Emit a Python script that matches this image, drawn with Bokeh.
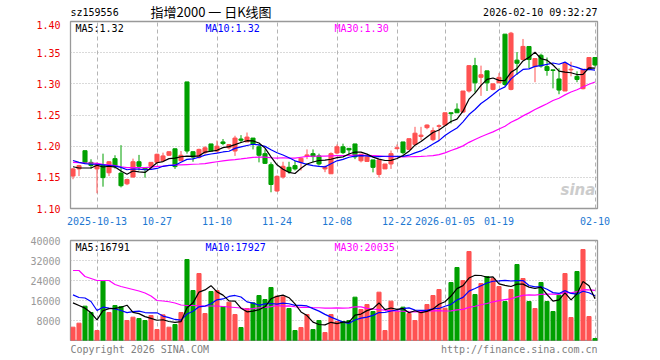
from bokeh.plotting import figure
from bokeh.layouts import column
from bokeh.models import Range1d, FixedTicker, Label, ColumnDataSource
from bokeh.embed import file_html
from bokeh.resources import INLINE

# ---------------- data ----------------
opens = [1.152, 1.1635, 1.1927, 1.174, 1.1635, 1.1698, 1.1573, 1.180, 1.1568, 1.1396,
         1.1505, 1.175, 1.1656, 1.1677, 1.174, 1.1766, 1.1854, 1.1958, 1.1766, 1.3031,
         1.1911, 1.1818, 1.1896, 1.2036, 1.1922, 1.2068, 1.1974, 1.1922, 1.2115, 1.2068,
         1.213, 1.199, 1.188, 1.1703, 1.1281, 1.1505, 1.1661, 1.1688, 1.174, 1.1844,
         1.188, 1.1844, 1.1635, 1.1557, 1.189, 1.199, 1.1965, 1.2036, 1.1766, 1.1755,
         1.178, 1.1547, 1.1635, 1.1714, 1.196, 1.2068, 1.1948, 1.2026, 1.2156, 1.2297,
         1.2104, 1.2318, 1.2338, 1.2536, 1.2594, 1.2547, 1.2885, 1.3292, 1.3104, 1.3208,
         1.2911, 1.3016, 1.3797, 1.2911, 1.338, 1.339, 1.3599, 1.3276, 1.3458, 1.3276,
         1.3224, 1.3078, 1.2885, 1.3224, 1.312, 1.2922, 1.3234, 1.3422]
highs = [1.165, 1.170, 1.1927, 1.179, 1.174, 1.188, 1.176, 1.1854, 1.2016, 1.1479,
         1.180, 1.186, 1.1656, 1.1745, 1.188, 1.1896, 1.1915, 1.1958, 1.1922, 1.3031,
         1.1911, 1.196, 1.200, 1.2036, 1.209, 1.2115, 1.2026, 1.2167, 1.2177, 1.2219,
         1.213, 1.2026, 1.1948, 1.174, 1.1531, 1.175, 1.175, 1.1766, 1.1818, 1.1948,
         1.1948, 1.188, 1.1688, 1.190, 1.2026, 1.204, 1.1965, 1.2036, 1.188, 1.185,
         1.178, 1.178, 1.1714, 1.193, 1.2026, 1.2068, 1.212, 1.231, 1.231, 1.2349,
         1.230, 1.2349, 1.2536, 1.2536, 1.2687, 1.2885, 1.330, 1.3417, 1.3292, 1.3208,
         1.300, 1.3172, 1.3797, 1.3833, 1.351, 1.372, 1.3599, 1.3406, 1.3484, 1.3422,
         1.3224, 1.325, 1.3328, 1.3354, 1.320, 1.3234, 1.3422, 1.3422]
lows = [1.147, 1.152, 1.172, 1.164, 1.1245, 1.135, 1.152, 1.164, 1.1339, 1.1375,
        1.1495, 1.161, 1.1495, 1.1635, 1.172, 1.175, 1.1845, 1.1635, 1.176, 1.188,
        1.175, 1.180, 1.187, 1.1922, 1.1896, 1.2015, 1.1948, 1.1844, 1.2052, 1.2068,
        1.1948, 1.174, 1.1714, 1.126, 1.127, 1.1479, 1.1557, 1.161, 1.1609, 1.1792,
        1.174, 1.1688, 1.1583, 1.1557, 1.187, 1.1875, 1.186, 1.1792, 1.174, 1.1755,
        1.158, 1.1495, 1.1635, 1.1635, 1.1948, 1.187, 1.1948, 1.2026, 1.210, 1.2271,
        1.208, 1.2083, 1.2338, 1.2365, 1.2536, 1.2531, 1.286, 1.286, 1.2807, 1.2885,
        1.2896, 1.3016, 1.2963, 1.2896, 1.3146, 1.338, 1.325, 1.3026, 1.326, 1.313,
        1.2927, 1.2833, 1.2885, 1.312, 1.3026, 1.2911, 1.3234, 1.3276]
closes = [1.1635, 1.1688, 1.174, 1.169, 1.1714, 1.1495, 1.175, 1.1677, 1.1365, 1.1464,
          1.175, 1.1677, 1.1635, 1.174, 1.187, 1.1844, 1.1911, 1.1672, 1.1854, 1.1922,
          1.1825, 1.1948, 1.1974, 1.1922, 1.200, 1.2042, 1.2026, 1.213, 1.2094, 1.2146,
          1.2026, 1.1854, 1.1724, 1.1385, 1.1516, 1.1677, 1.1594, 1.1635, 1.1807, 1.186,
          1.1833, 1.1714, 1.1662, 1.188, 1.199, 1.1896, 1.194, 1.1828, 1.187, 1.1828,
          1.166, 1.178, 1.1714, 1.188, 1.1975, 1.1896, 1.212, 1.2208, 1.2177, 1.2339,
          1.225, 1.2328, 1.2536, 1.2521, 1.2536, 1.2885, 1.3292, 1.3016, 1.3146, 1.3016,
          1.300, 1.3104, 1.2990, 1.3813, 1.333, 1.360, 1.339, 1.3406, 1.3286, 1.3214,
          1.3214, 1.290, 1.3328, 1.3234, 1.307, 1.3234, 1.3422, 1.3302]
volumes = [5333, 6933, 13733, 11200, 4000, 23733, 11200, 14000, 13600, 8000,
           9333, 8800, 8000, 10000, 4400, 10267, 5333, 6400, 11200, 32400,
           20000, 26800, 10800, 19600, 20000, 13600, 15333, 10400, 5200, 12800,
           15067, 18000, 16400, 21200, 17733, 17467, 12800, 4000, 5200, 10400,
           4400, 8000, 3200, 10400, 7600, 7600, 8000, 17333, 12400, 14400,
           11600, 19333, 4000, 15733, 11733, 13333, 10800, 8000, 11733, 14400,
           18000, 20400, 12933, 23200, 29200, 24000, 35600, 18400, 22800, 25600,
           24800, 21600, 15600, 20400, 30400, 24800, 15600, 12800, 23200, 15600,
           11600, 18133, 26800, 9200, 27600, 36400, 9600, 800]

# moving-average values at the left edge (need data from before the window)
ma5_head = [1.167, 1.165, 1.165, 1.165]
ma10_head = [1.177, 1.174, 1.172, 1.171, 1.171, 1.170, 1.169, 1.168, 1.166]
ma30_head = [1.174, 1.1735, 1.173, 1.173, 1.1725, 1.171, 1.170, 1.169, 1.167, 1.1656,
             1.1656, 1.1656, 1.1656, 1.1665, 1.1677, 1.168, 1.169, 1.170, 1.170, 1.1705,
             1.171, 1.1714, 1.172, 1.1735, 1.175, 1.1765, 1.1776, 1.1785, 1.1795]
vma5_head = [15067, 14000, 12933, 11067]
vma10_head = [18267, 17200, 17000, 15600, 12000, 13333, 12933, 12667, 12000]
vma30_head = [28000, 28000, 25600, 24800, 24000, 24000, 24000, 22400, 21600, 21000,
              20400, 19800, 19000, 17800, 16000, 15800, 15500, 15000, 14200, 14000,
              14000, 13900, 13800, 13800, 13800, 13600, 13400, 13200, 13000]

date_tick_pos = [4, 14, 24, 34, 44, 54, 62, 71, 87]
date_tick_labels = ["2025-10-13", "10-27", "11-10", "11-24", "12-08", "12-22",
                    "2026-01-05", "01-19", "02-10"]
price_ticks = [1.10, 1.15, 1.20, 1.25, 1.30, 1.35, 1.40]
price_tick_labels = ["1.10", "1.15", "1.20", "1.25", "1.30", "1.35", "1.40"]
vol_ticks = [8000, 16000, 24000, 32000, 40000]
vol_tick_labels = ["8000", "16000", "24000", "32000", "40000"]

# ---------------- derived ----------------
def moving_average(vals, w, head):
    out = list(head)
    for i in range(len(head), len(vals)):
        out.append(sum(vals[i - w + 1:i + 1]) / w)
    return out

n = len(closes)
idx = list(range(n))
UP, DOWN = "#ff5252", "#00a000"
colors = [UP if c >= o else DOWN for o, c in zip(opens, closes)]
src = ColumnDataSource(dict(
    x=idx, o=opens, h=highs, l=lows, c=closes, v=volumes, color=colors,
    top=[max(o, c) for o, c in zip(opens, closes)],
    bot=[min(o, c) for o, c in zip(opens, closes)],
    ma5=moving_average(closes, 5, ma5_head),
    ma10=moving_average(closes, 10, ma10_head),
    ma30=moving_average(closes, 30, ma30_head),
    vma5=moving_average(volumes, 5, vma5_head),
    vma10=moving_average(volumes, 10, vma10_head),
    vma30=moving_average(volumes, 30, vma30_head),
))

FONT = "DejaVu Sans Mono"
GRID = "#b4b4b4"
FRAME_L, FRAME_W = 70, 527
FRAME_R = FRAME_L + FRAME_W
PX = 6.0                      # pixels per bar
X0 = -2.5 / PX
X1 = X0 + FRAME_W / PX

def xi(px):                   # canvas pixel -> bar index
    return X0 + (px - FRAME_L) / PX

def style(fig):
    fig.outline_line_color = "#999999"
    fig.outline_line_width = 1.3
    fig.background_fill_color = "white"
    fig.border_fill_color = "white"
    fig.xgrid.ticker = FixedTicker(ticks=date_tick_pos, minor_ticks=[])
    fig.xgrid.grid_line_color = GRID
    fig.xgrid.grid_line_dash = "4 3"
    fig.ygrid.grid_line_color = GRID
    fig.ygrid.grid_line_dash = "1 2"
    fig.yaxis.axis_line_color = None
    fig.yaxis.major_tick_line_color = None
    fig.yaxis.minor_tick_line_color = None
    fig.yaxis.major_label_text_font = FONT
    fig.yaxis.major_label_text_font_size = "10px"
    fig.yaxis.major_label_standoff = 4

def add_label(fig, x, y, text, color="#000000", align="left", font=FONT, size="10px", **kw):
    fig.add_layout(Label(x=x, y=y, text=text, text_color=color, text_align=align,
                         text_baseline="middle", text_font=font, text_font_size=size, **kw))

def strip(height):
    """A text-only band (header/footer); its frame lines up with the panels' frames,
    so its x range is in canvas pixels of that frame."""
    f = figure(width=660, height=height, output_backend="svg", toolbar_location=None, tools="",
               x_range=Range1d(FRAME_L, FRAME_R), y_range=Range1d(0, height),
               min_border_left=FRAME_L, min_border_right=660 - FRAME_R,
               min_border_top=0, min_border_bottom=0)
    f.axis.visible = False
    f.grid.visible = False
    f.outline_line_color = None
    return f

# ---------------- header ----------------
HEAD_H = 20
head = strip(HEAD_H)
add_label(head, 70, HEAD_H - 12, "sz159556")
add_label(head, 150, HEAD_H - 10.5, "指增2000 一 日K线图", font="Noto Sans CJK SC", size="13px")
add_label(head, 597, HEAD_H - 12, "2026-02-10 09:32:27", align="right")

# ---------------- price panel ----------------
P_FRAME_H = 191
p = figure(width=660, height=1 + P_FRAME_H + 15, output_backend="svg", toolbar_location=None,
           tools="", x_range=Range1d(X0, X1), y_range=Range1d(1.10, 1.40),
           min_border_left=70, min_border_right=63, min_border_top=1, min_border_bottom=15)
style(p)
p.ygrid.ticker = FixedTicker(ticks=price_ticks[1:-1], minor_ticks=[])
p.yaxis.ticker = FixedTicker(ticks=price_ticks, minor_ticks=[])
p.yaxis.major_label_overrides = dict(zip(price_ticks, price_tick_labels))
p.yaxis.major_label_text_color = "#ee0000"
p.xaxis.ticker = FixedTicker(ticks=date_tick_pos, minor_ticks=[])
p.xaxis.major_label_overrides = dict(zip(date_tick_pos, date_tick_labels))
p.xaxis.axis_line_color = None
p.xaxis.major_tick_line_color = None
p.xaxis.minor_tick_line_color = None
p.xaxis.major_label_text_font = FONT
p.xaxis.major_label_text_font_size = "10px"
p.xaxis.major_label_text_color = "#1e78d2"
p.xaxis.major_label_standoff = 2

p.segment(x0="x", y0="l", x1="x", y1="h", color="color", line_width=1, source=src)
p.vbar(x="x", top="top", bottom="bot", width=0.68, fill_color="color",
       line_color="color", line_width=1, source=src)
p.line("x", "ma30", color="#ff00ff", line_width=1.2, source=src)
p.line("x", "ma10", color="#0000ff", line_width=1.2, source=src)
p.line("x", "ma5", color="#000000", line_width=1.2, source=src)

PY = 0.30 / P_FRAME_H         # price per pixel
add_label(p, xi(75), 1.40 - 7 * PY, "MA5:1.32", "#000000")
add_label(p, xi(205), 1.40 - 7 * PY, "MA10:1.32", "#0000ff")
add_label(p, xi(334), 1.40 - 7 * PY, "MA30:1.30", "#ff00ff")
add_label(p, xi(560), 1.10 + 19 * PY, "sina", "#cccccc", font="DejaVu Sans",
          size="15px", text_font_style="bold italic")

# ---------------- volume panel ----------------
q = figure(width=660, height=114, output_backend="svg", toolbar_location=None, tools="",
           x_range=p.x_range, y_range=Range1d(0, 40000),
           min_border_left=70, min_border_right=63, min_border_top=13, min_border_bottom=1)
style(q)
q.xaxis.visible = False
q.ygrid.ticker = FixedTicker(ticks=vol_ticks[:-1], minor_ticks=[])
q.yaxis.ticker = FixedTicker(ticks=vol_ticks, minor_ticks=[])
q.yaxis.major_label_overrides = dict(zip(vol_ticks, vol_tick_labels))
q.yaxis.major_label_text_color = "#999999"

q.vbar(x="x", top="v", bottom=0, width=0.68, fill_color="color", line_color="color",
       line_width=1, source=src)
q.line("x", "vma30", color="#ff00ff", line_width=1.2, source=src)
q.line("x", "vma10", color="#0000ff", line_width=1.2, source=src)
q.line("x", "vma5", color="#000000", line_width=1.2, source=src)

VY = 40000 / 100
add_label(q, xi(75), 40000 - 7 * VY, "MA5:16791", "#000000")
add_label(q, xi(205), 40000 - 7 * VY, "MA10:17927", "#0000ff")
add_label(q, xi(334), 40000 - 7 * VY, "MA30:20035", "#ff00ff")

# ---------------- footer ----------------
foot = strip(19)
add_label(foot, 70, 19 - 8, "Copyright 2026 SINA.COM", "#808080")
add_label(foot, 597, 19 - 8, "http://finance.sina.com.cn", "#808080", align="right")

layout = column(head, p, q, foot, spacing=0)
open("out.html", "w").write(file_html(layout, INLINE))
